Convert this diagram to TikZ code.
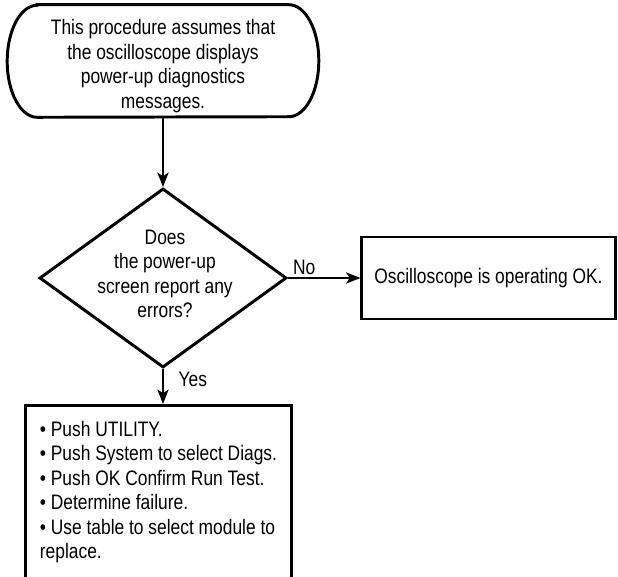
\documentclass[tikz,border=0pt]{standalone}
\usepackage{fontspec}
\setmainfont{Liberation Sans}[FakeStretch=0.83]
\usepackage{tikz}
\usetikzlibrary{positioning,shapes.geometric,arrows.meta}

\tikzset{
	border/.style={line width=2.1pt},
	flow/.style={line width=1.4pt,-{Stealth[length=3.6mm,width=2.8mm,inset=0.9mm]}},
	txt/.style={font=\fontsize{14.9}{17.4}\selectfont,align=center},
	box/.style={draw,border,rectangle,inner sep=0pt},
	decision/.style={draw,border,diamond,inner sep=0pt},
}

\begin{document}
\begin{tikzpicture}[x=0.025cm,y=0.025cm]
	\useasboundingbox (0,0) rectangle (618,577);
	% start
	\node[minimum width=7.775cm,minimum height=2.8cm,inner sep=0pt] (start) at (163,516) {};
	\draw[border] ([xshift=0.75cm]start.north west) -- ([xshift=-0.75cm]start.north east)
		arc[start angle=90,end angle=-90,x radius=0.75cm,y radius=1.4cm]
		-- ([xshift=0.75cm]start.south west)
		arc[start angle=270,end angle=90,x radius=0.75cm,y radius=1.4cm] -- cycle;
	\node[txt] (starttext) at (163,511) {This procedure assumes that\\the oscilloscope displays\\power-up diagnostics\\messages.};
	% decision
	\node[decision,minimum width=6.175cm,minimum height=4.475cm] (ask) at (163,299) {};
	\node[txt] (asktext) at (165,303) {Does\\the power-up\\screen report any\\errors?};
	% outcomes
	\node[box,txt,minimum width=6.325cm,minimum height=2.05cm] (ok) at (488.5,299) {Oscilloscope is operating OK.};
	\node[box,txt,align=left,minimum width=6.625cm,minimum height=4.325cm,anchor=north] (fix) at (158.5,173) {%
		• Push UTILITY.\\
		• Push System to select Diags.\\
		• Push OK Confirm Run Test.\\
		• Determine failure.\\
		• Use table to select module to\\
		replace.};
	% connectors
	\draw[flow] (start.south) -- (ask.north);
	\draw[flow] (ask.east) -- node[txt,pos=0,anchor=south west,inner sep=1.5pt,xshift=0.05cm] {No} (ok.west);
	\draw[flow] (ask.south) -- node[txt,pos=0.31,anchor=west,xshift=0.25cm] {Yes} (ask.south |- fix.north);
\end{tikzpicture}
\end{document}
